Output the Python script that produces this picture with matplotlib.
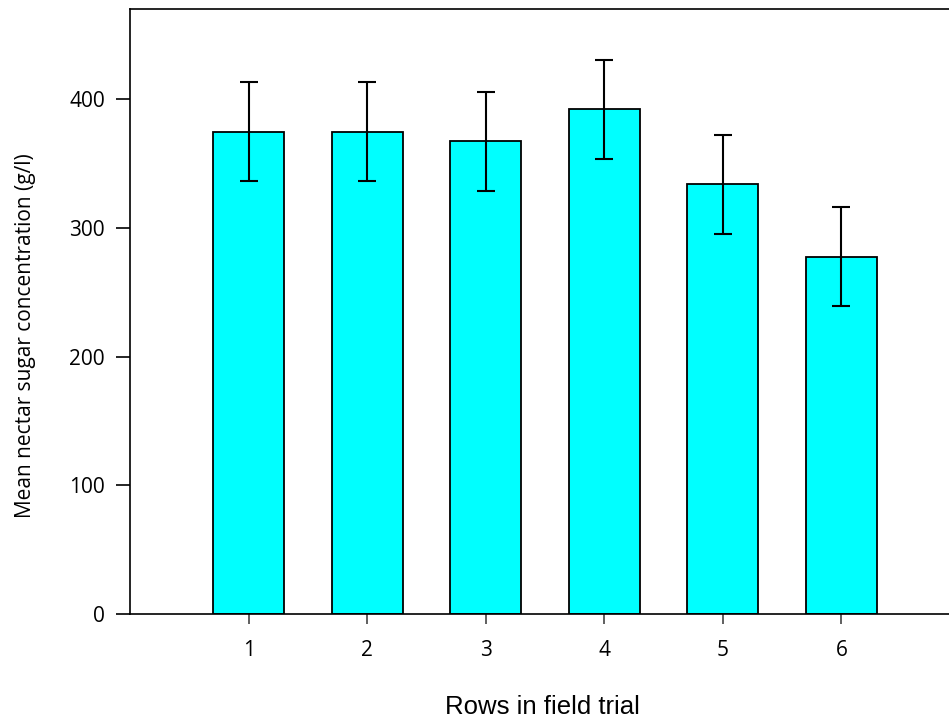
import matplotlib
matplotlib.use("Agg")
import matplotlib.pyplot as plt

rows = [1, 2, 3, 4, 5, 6]
means = [374.6, 374.6, 367.1, 392.2, 333.7, 277.5]
errors = [38.5, 38.5, 38.5, 38.5, 38.5, 38.4]
yticks = [0, 100, 200, 300, 400]

fig = plt.figure(figsize=(9.49, 7.22), dpi=100)
ax = fig.add_axes([130/949, 108/722, (960-130)/949, (614-9)/722])

ax.bar(rows, means, width=0.6, color='#00FFFF', edgecolor='black', linewidth=1.3, zorder=2)
ax.errorbar(rows, means, yerr=errors, fmt='none', ecolor='black', elinewidth=1.5,
            capsize=6.2, capthick=1.5, zorder=3)

ax.set_xlim(0, 7)
ax.set_ylim(0, 470)
ax.set_xticks(rows)
ax.set_yticks(yticks)

for s in ax.spines.values():
    s.set_linewidth(1.2)
    s.set_color('black')

ax.tick_params(axis='y', direction='out', length=10, width=1.2, pad=8, labelsize=15)
ax.tick_params(axis='x', direction='out', length=7, width=1.2, color='#444444', pad=12, labelsize=15)
for lbl in ax.get_xticklabels() + ax.get_yticklabels():
    lbl.set_fontfamily('Open Sans')

ax.set_ylabel('Mean nectar sugar concentration (g/l)', fontfamily='Open Sans', fontsize=15)
ax.yaxis.set_label_coords((36-130)/830, 0.46)
ax.set_xlabel('Rows in field trial', fontfamily='Liberation Sans', fontsize=18.5)
ax.xaxis.set_label_coords((542-130)/830, -(695-614)/605)

fig.savefig('out.png', dpi=100)
